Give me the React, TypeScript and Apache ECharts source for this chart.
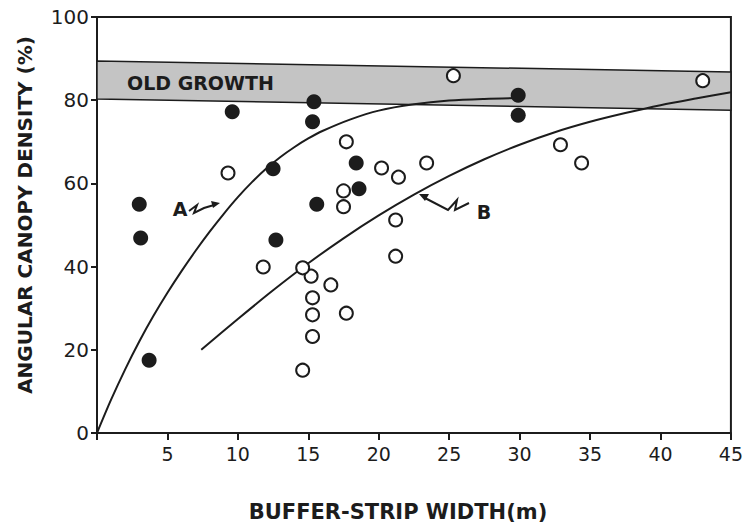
import React, { useEffect, useRef } from "react";
import * as echarts from "echarts";

// Data
const filledPoints: number[][] = [
  [3.0, 55.0], [3.1, 46.9], [3.7, 17.5], [9.6, 77.2], [12.5, 63.5], [12.7, 46.4],
  [15.4, 79.6], [15.3, 74.8], [15.6, 55.0], [18.4, 64.9], [18.6, 58.7],
  [29.9, 81.2], [29.9, 76.4],
];
const openPoints: number[][] = [
  [9.3, 62.5], [17.7, 70.0], [17.5, 54.4], [17.5, 58.2], [20.2, 63.7], [21.4, 61.5],
  [23.4, 64.9], [25.3, 85.9], [43.0, 84.7], [32.9, 69.3], [34.4, 64.9], [21.2, 51.2],
  [21.2, 42.5], [11.8, 39.9], [15.2, 37.7], [14.6, 39.7], [16.6, 35.6], [15.3, 32.5],
  [15.3, 28.4], [17.7, 28.8], [15.3, 23.2], [14.6, 15.1],
];
const curveA: number[][] = [
  [0, 0], [1, 8], [2, 15.3], [3, 22.0], [4, 28.1], [5, 33.7], [6, 38.9], [7, 43.8],
  [8, 48.4], [9, 52.7], [10, 56.7], [11, 60.3], [12, 63.5], [13, 66.3], [14, 68.7],
  [15, 70.8], [16, 72.6], [18, 75.4], [20, 77.5], [22.5, 79.0], [25, 79.9],
  [27.5, 80.3], [30, 80.5],
];
const curveB: number[][] = [
  [7.4, 20], [10, 27.4], [12.5, 34.3], [15, 40.8], [17.5, 46.8], [20, 52.3],
  [22.5, 57.3], [25, 61.8], [27.5, 65.8], [30, 69.3], [32.5, 72.3], [35, 74.8],
  [37.5, 76.9], [40, 78.8], [42.5, 80.4], [45, 81.9],
];
const bandX = [0, 45];
const bandLow = [80.3, 77.6];
const bandHigh = [89.4, 86.8];
const xTicks = [5, 10, 15, 20, 25, 30, 35, 40, 45];

const INK = "#1c1c1c";
const FONT = "DejaVu Sans";

export default function App() {
  const ref = useRef<HTMLDivElement>(null);
  useEffect(() => {
    if (!ref.current) return;
    const chart = echarts.init(ref.current, null, { renderer: "svg" });
    chart.setOption({
      animation: false,
      backgroundColor: "#ffffff",
      grid: {
        left: 97, right: 13, top: 17, bottom: 96,
        show: true, borderColor: INK, borderWidth: 2, backgroundColor: "transparent",
      },
      xAxis: {
        type: "value", min: 0, max: 45, interval: 5,
        axisLine: { show: true, lineStyle: { color: INK, width: 2 } },
        axisTick: { show: true, length: 7, lineStyle: { color: INK, width: 2 } },
        splitLine: { show: false },
        axisLabel: {
          color: INK, fontFamily: FONT, fontSize: 19, margin: 11,
          formatter: (v: number) => (xTicks.includes(v) ? String(v) : ""),
        },
      },
      yAxis: {
        type: "value", min: 0, max: 100, interval: 20,
        axisLine: { show: true, lineStyle: { color: INK, width: 2 } },
        axisTick: { show: true, length: 6, lineStyle: { color: INK, width: 2 } },
        splitLine: { show: false },
        axisLabel: { color: INK, fontFamily: FONT, fontSize: 20, margin: 8 },
      },
      series: [
        {
          type: "custom",
          name: "Old growth",
          data: [[0, 0]],
          silent: true,
          z: 1,
          renderItem: (_params: any, api: any) => {
            const pts = [
              api.coord([bandX[0], bandLow[0]]),
              api.coord([bandX[1], bandLow[1]]),
              api.coord([bandX[1], bandHigh[1]]),
              api.coord([bandX[0], bandHigh[0]]),
            ];
            return {
              type: "polygon",
              shape: { points: pts },
              style: { fill: "#c4c4c4", stroke: INK, lineWidth: 1.5 },
            };
          },
        },
        {
          type: "line", name: "A", data: curveA, smooth: 0.3,
          showSymbol: false, z: 2, lineStyle: { color: INK, width: 2 },
        },
        {
          type: "line", name: "B", data: curveB, smooth: 0.3,
          showSymbol: false, z: 2, lineStyle: { color: INK, width: 2 },
        },
        {
          type: "scatter", name: "filled", data: filledPoints, symbol: "circle", symbolSize: 15, z: 3,
          itemStyle: { color: INK, opacity: 1 },
        },
        {
          type: "scatter", name: "open", data: openPoints, symbol: "circle", symbolSize: 13, z: 4,
          itemStyle: { color: "#ffffff", borderColor: INK, borderWidth: 2, opacity: 1 },
        },
      ],
      graphic: [
        {
          type: "text", left: 127, top: 73, z: 10,
          style: { text: "OLD GROWTH", fontFamily: FONT, fontSize: 19, fontWeight: "bold", fill: INK },
        },
        {
          type: "text", x: 180, y: 209, z: 10,
          style: { text: "A", fontFamily: FONT, fontSize: 19, fontWeight: "bold", fill: INK, align: "center", verticalAlign: "middle" },
        },
        {
          type: "polyline", z: 10,
          shape: { points: [[189, 211], [197, 205], [194, 213], [204, 208], [214, 205]] },
          style: { stroke: INK, lineWidth: 2, fill: "none" },
        },
        {
          type: "polygon", z: 10,
          shape: { points: [[220, 203], [211, 201], [213, 208]] },
          style: { fill: INK },
        },
        {
          type: "text", x: 484, y: 212, z: 10,
          style: { text: "B", fontFamily: FONT, fontSize: 19, fontWeight: "bold", fill: INK, align: "center", verticalAlign: "middle" },
        },
        {
          type: "polyline", z: 10,
          shape: { points: [[425, 198], [448, 210], [457, 200], [455, 210], [469, 203]] },
          style: { stroke: INK, lineWidth: 2, fill: "none" },
        },
        {
          type: "polygon", z: 10,
          shape: { points: [[419, 194], [429, 194], [425, 201]] },
          style: { fill: INK },
        },
        {
          type: "text", x: 398, y: 512, z: 10,
          style: { text: "BUFFER-STRIP WIDTH(m)", fontFamily: FONT, fontSize: 21, fontWeight: "bold", fill: INK, align: "center", verticalAlign: "middle" },
        },
        {
          type: "text", x: 25, y: 215, rotation: Math.PI / 2, z: 10,
          style: { text: "ANGULAR CANOPY DENSITY (%)", fontFamily: FONT, fontSize: 20, fontWeight: "bold", fill: INK, align: "center", verticalAlign: "middle" },
        },
      ],
    });
    return () => chart.dispose();
  }, []);
  return <div ref={ref} style={{ width: 746, height: 529, position: "absolute", left: 0, top: 0 }} />;
}
